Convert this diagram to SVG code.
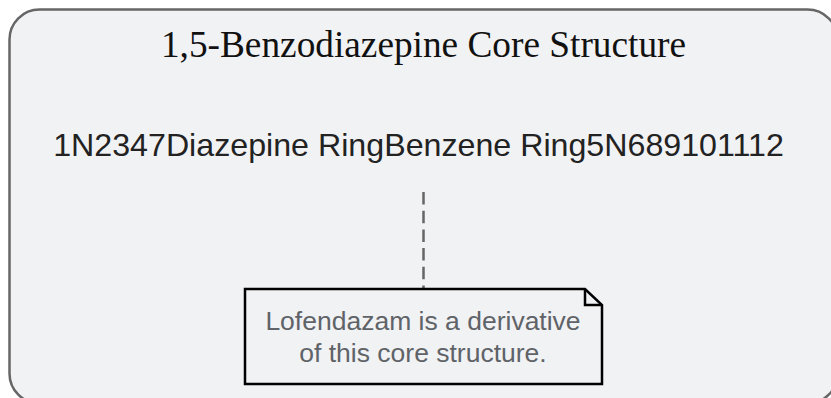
<svg xmlns="http://www.w3.org/2000/svg" width="831" height="398" viewBox="0 0 831 398">
<style>
.frame{fill:#f1f2f4;stroke:#666;stroke-width:2.5}
.title{font-family:"Liberation Serif",serif;font-size:37.3px;fill:#111}
.label{font-family:"Liberation Sans",Arial,sans-serif;font-size:32.2px;fill:#222}
.note{fill:#f1f2f4;stroke:#000;stroke-width:2.5}
.notetext{font-family:"Liberation Sans",Arial,sans-serif;font-size:26.5px;fill:#5f6368}
.link{stroke:#666;stroke-width:2.5;stroke-dasharray:12.5 6.2;fill:none}
</style>
<rect width="831" height="398" fill="#ffffff"/>
<g id="core">
<rect class="frame" x="9.5" y="9.5" width="828" height="394" rx="30" ry="30"/>
<text class="title" x="423.5" y="57" text-anchor="middle">1,5-Benzodiazepine Core Structure</text>
<text class="label" x="418.5" y="156" text-anchor="middle">1N2347Diazepine RingBenzene Ring5N689101112</text>
</g>
<g id="connectors">
<line class="link" x1="423.5" y1="192" x2="423.5" y2="289"/>
</g>
<g id="note">
<path class="note" d="M245,289 H585 L602,305 V384 H245 Z"/>
<path d="M585,289 V305 H602" fill="none" stroke="#000" stroke-width="2.5"/>
<text class="notetext" x="423" y="330" text-anchor="middle">Lofendazam is a derivative</text>
<text class="notetext" x="423" y="362" text-anchor="middle">of this core structure.</text>
</g>
</svg>
